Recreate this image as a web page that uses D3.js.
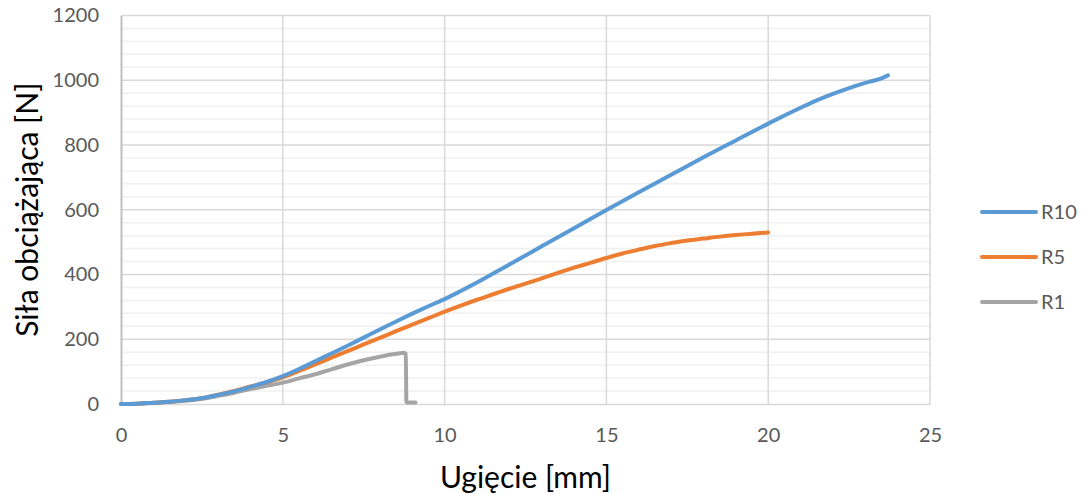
<!DOCTYPE html>
<html>
<head>
<meta charset="utf-8">
<script src="https://cdn.jsdelivr.net/npm/d3@7"></script>
<style>
  body { margin: 0; background: #fff; }
  svg { display: block; }
  text { font-family: Lato, "Open Sans", sans-serif; }
</style>
</head>
<body>
<svg id="chart" width="1083" height="494"></svg>
<script>
// Deflection [mm] vs. load [N] for three specimens
const r10X = [0, 0.5, 1, 1.5, 2, 2.5, 3, 3.5, 4, 4.5, 5, 5.5, 6, 6.5, 7, 7.5, 8, 8.5, 9, 9.5, 10, 10.5, 11, 12, 12.5, 13, 14, 15, 16, 17, 18, 19, 20, 20.5, 21, 21.5, 22, 22.5, 23, 23.5, 23.7];
const r10Y = [0, 1, 4, 7, 12, 18, 28, 39, 53, 68, 86, 108, 132, 156, 180, 205, 230, 255, 279, 302, 324, 349, 375, 431, 459, 487, 543, 599, 654, 708, 762, 814, 866, 891, 915, 938, 958, 976, 992, 1006, 1015];

const r5X = [0, 0.5, 1, 1.5, 2, 2.5, 3, 3.5, 4, 4.5, 5, 5.5, 6, 6.5, 7, 7.5, 8, 8.5, 9, 9.5, 10, 10.5, 11, 11.5, 12, 12.5, 13, 13.5, 14, 14.5, 15, 15.5, 16, 16.5, 17, 17.5, 18, 18.5, 19, 19.5, 20];
const r5Y = [0, 1, 4, 7, 12, 18, 29, 40, 54, 67, 82, 102, 122, 143, 163, 184, 204, 225, 245, 265, 285, 304, 322, 339, 356, 372, 388, 405, 421, 436, 451, 465, 477, 488, 497, 505, 511, 517, 522, 526, 530];

const r1X = [0, 0.5, 1, 1.5, 2, 2.5, 3, 3.5, 4, 4.5, 5, 5.5, 6, 6.5, 7, 7.5, 8, 8.5, 8.75, 8.8, 8.82, 9.1];
const r1Y = [0, 1, 3, 6, 10, 16, 25, 35, 46, 56, 66, 79, 92, 107, 122, 135, 146, 155, 158, 155, 5, 5];

const seriesNames = ["R10", "R5", "R1"];
const seriesColors = ["#5B9BD5", "#ED7D31", "#A5A5A5"];
const xTicks = [0, 5, 10, 15, 20, 25];
const yTicks = [0, 200, 400, 600, 800, 1000, 1200];
const yMinor = d3.range(0, 1201, 40);
const xTitle = "Ugięcie [mm]";
const yTitle = "Siła obciążająca [N]";

const series = [
  { name: seriesNames[0], color: seriesColors[0], pts: r10X.map((x, i) => [x, r10Y[i]]) },
  { name: seriesNames[1], color: seriesColors[1], pts: r5X.map((x, i) => [x, r5Y[i]]) },
  { name: seriesNames[2], color: seriesColors[2], pts: r1X.map((x, i) => [x, r1Y[i]]) }
];

const svg = d3.select("#chart");
const plot = { left: 121, right: 930, top: 15.5, bottom: 404 };

const x = d3.scaleLinear().domain([0, 25]).range([plot.left, plot.right]);
const y = d3.scaleLinear().domain([0, 1200]).range([plot.bottom, plot.top]);

// minor horizontal gridlines
svg.append("g").selectAll("line").data(yMinor.filter(v => v % 200 !== 0)).join("line")
  .attr("x1", plot.left).attr("x2", plot.right)
  .attr("y1", d => y(d)).attr("y2", d => y(d))
  .attr("stroke", "#F0F0F0").attr("stroke-width", 1.5);

// major horizontal gridlines
svg.append("g").selectAll("line").data(yTicks.filter(v => v > 0)).join("line")
  .attr("x1", plot.left).attr("x2", plot.right)
  .attr("y1", d => y(d)).attr("y2", d => y(d))
  .attr("stroke", "#D9D9D9").attr("stroke-width", 1.5);

// vertical gridlines
svg.append("g").selectAll("line").data(xTicks.filter(v => v > 0)).join("line")
  .attr("x1", d => x(d)).attr("x2", d => x(d))
  .attr("y1", plot.top).attr("y2", plot.bottom)
  .attr("stroke", "#D9D9D9").attr("stroke-width", 1.5);

// axes
const xAxis = svg.append("g")
  .attr("transform", `translate(0,${plot.bottom})`)
  .call(d3.axisBottom(x).tickValues(xTicks).tickSize(0).tickPadding(24).tickFormat(d3.format("d")));
xAxis.select(".domain").attr("stroke", "#D9D9D9").attr("stroke-width", 1.5);
xAxis.selectAll("text").attr("fill", "#595959").style("font-size", "20px").style("font-family", "Lato, sans-serif");

const yAxis = svg.append("g")
  .attr("transform", `translate(${plot.left},0)`)
  .call(d3.axisLeft(y).tickValues(yTicks).tickSize(0).tickPadding(22).tickFormat(d3.format("d")));
yAxis.select(".domain").attr("stroke", "#BFBFBF").attr("stroke-width", 2);
yAxis.selectAll("text").attr("fill", "#595959").style("font-size", "20px").style("font-family", "Lato, sans-serif");

// series lines
const line = d3.line().x(d => x(d[0])).y(d => y(d[1])).curve(d3.curveMonotoneX);
svg.append("g").selectAll("path").data(series.slice().reverse()).join("path")
  .attr("d", d => line(d.pts))
  .attr("fill", "none")
  .attr("stroke", d => d.color)
  .attr("stroke-width", 4)
  .attr("stroke-linecap", "round")
  .attr("stroke-linejoin", "round");

// axis titles
svg.append("text")
  .attr("x", (plot.left + plot.right) / 2).attr("y", 488)
  .attr("text-anchor", "middle")
  .style("font-size", "30px").attr("fill", "#000")
  .text(xTitle);

svg.append("text")
  .attr("transform", `translate(38,${(plot.top + plot.bottom) / 2}) rotate(-90)`)
  .attr("text-anchor", "middle")
  .style("font-size", "30px").attr("fill", "#000")
  .text(yTitle);

// legend
const legend = svg.append("g").selectAll("g").data(series).join("g")
  .attr("transform", (d, i) => `translate(982,${212 + i * 45})`);
legend.append("line")
  .attr("x1", 0).attr("x2", 54).attr("y1", 0).attr("y2", 0)
  .attr("stroke", d => d.color).attr("stroke-width", 4).attr("stroke-linecap", "round");
legend.append("text")
  .attr("x", 59).attr("y", 0).attr("dy", "0.35em")
  .style("font-size", "20px").attr("fill", "#595959")
  .text(d => d.name);
</script>
</body>
</html>
